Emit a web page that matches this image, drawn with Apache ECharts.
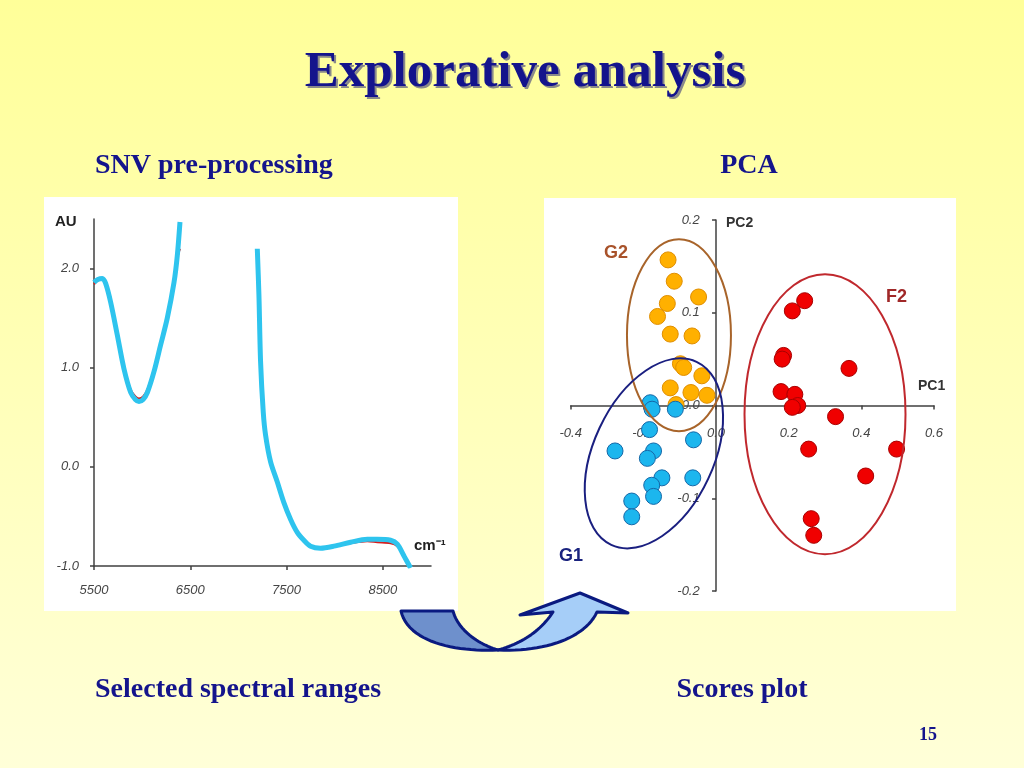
<!DOCTYPE html>
<html>
<head>
<meta charset="utf-8">
<script src="https://cdn.jsdelivr.net/npm/echarts@6/dist/echarts.min.js"></script>
<style>
html,body{margin:0;padding:0;width:1024px;height:768px;overflow:hidden;}
#c{width:1024px;height:768px;}
</style>
</head>
<body>
<div id="c"></div>
<script>
// ---------- Spectra (SNV pre-processed) ----------
const wn1 = [5500, 5540, 5586, 5621, 5673, 5742, 5811, 5881, 5930, 5967, 6010, 6054, 6123, 6192, 6261, 6331, 6365, 6393];
const cyan1 = [1.86, 1.89, 1.90, 1.85, 1.66, 1.33, 0.99, 0.75, 0.68, 0.66, 0.68, 0.75, 0.96, 1.23, 1.50, 1.86, 2.13, 2.47];
const red1 = [1.84, 1.88, 1.89, 1.84, 1.66, 1.34, 1.01, 0.78, 0.71, 0.69, 0.71, 0.78, 0.98, 1.24, 1.50, 1.84, 2.10, 2.20];
const wn2 = [7196, 7213, 7230, 7258, 7282, 7334, 7403, 7472, 7542, 7611, 7680, 7749, 7853, 7992, 8165, 8338, 8442, 8580, 8650, 8720, 8788];
const cyan2 = [2.20, 1.73, 1.06, 0.55, 0.32, 0.05, -0.15, -0.36, -0.53, -0.66, -0.74, -0.80, -0.82, -0.80, -0.76, -0.73, -0.73, -0.74, -0.78, -0.90, -1.02];
const red2 = [1.98, 1.70, 1.05, 0.55, 0.32, 0.05, -0.15, -0.36, -0.53, -0.66, -0.74, -0.80, -0.82, -0.80, -0.77, -0.75, -0.76, -0.77, -0.80, -0.90, -1.00];
const specXTicks = [5500, 6500, 7500, 8500];
const specYTicks = [-1, 0, 1, 2];

// ---------- PCA scores ----------
const g1PC1 = [-0.181, -0.176, -0.112, -0.183, -0.062, -0.278, -0.172, -0.189, -0.149, -0.177, -0.172, -0.064, -0.232, -0.232];
const g1PC2 = [0.003, -0.004, -0.004, -0.026, -0.037, -0.049, -0.049, -0.057, -0.078, -0.086, -0.098, -0.078, -0.103, -0.120];
const g2PC1 = [-0.132, -0.115, -0.048, -0.134, -0.161, -0.126, -0.066, -0.098, -0.089, -0.039, -0.126, -0.069, -0.025, -0.110];
const g2PC2 = [0.157, 0.134, 0.117, 0.110, 0.096, 0.077, 0.075, 0.045, 0.041, 0.032, 0.019, 0.014, 0.011, 0.001];
const f2PC1 = [0.244, 0.210, 0.186, 0.182, 0.366, 0.179, 0.217, 0.225, 0.210, 0.329, 0.255, 0.497, 0.412, 0.262, 0.269];
const f2PC2 = [0.113, 0.102, 0.054, 0.050, 0.040, 0.015, 0.012, 0.000, -0.002, -0.012, -0.047, -0.047, -0.076, -0.122, -0.140];

const pair = (xs, ys) => xs.map((x, i) => [x, ys[i]]);

const chart = echarts.init(document.getElementById('c'), null, {renderer: 'canvas'});

const axisLineStyle = {color: '#404040', width: 1.5};
const tickLabel = {color: '#454545', fontStyle: 'italic', fontSize: 13, fontFamily: 'Liberation Sans, Arial, sans-serif'};
const noLine = {show: false};

chart.setOption({
  animation: false,
  backgroundColor: '#FFFFC0',
  grid: [
    {left: 94, top: 219, width: 337, height: 347},
    {left: 570.7, top: 220, width: 363.3, height: 371}
  ],
  xAxis: [
    {
      type: 'value', gridIndex: 0, min: 5500, max: 9000,
      axisLine: {onZero: false, lineStyle: axisLineStyle},
      axisTick: {show: true, length: 4, lineStyle: axisLineStyle, customValues: specXTicks},
      axisLabel: Object.assign({margin: 18, customValues: specXTicks, formatter: v => String(v)}, tickLabel),
      splitLine: {show: false}
    },
    {
      type: 'value', gridIndex: 1, min: -0.4, max: 0.6, interval: 0.2,
      axisLine: {onZero: true, lineStyle: axisLineStyle},
      axisTick: {show: true, length: 4, lineStyle: axisLineStyle},
      axisLabel: {show: false},
      splitLine: {show: false}
    },
    {
      // label carrier placed on the zero line
      type: 'value', gridIndex: 1, min: -0.4, max: 0.6, interval: 0.2, position: 'bottom', offset: -185,
      axisLine: {show: false, onZero: false}, axisTick: noLine,
      axisLabel: Object.assign({margin: 21, formatter: v => v.toFixed(1)}, tickLabel),
      splitLine: {show: false}
    }
  ],
  yAxis: [
    {
      type: 'value', gridIndex: 0, min: -1, max: 2.5,
      axisLine: {show: true, onZero: false, lineStyle: axisLineStyle},
      axisTick: {show: true, length: 4, lineStyle: axisLineStyle, customValues: specYTicks},
      axisLabel: Object.assign({margin: 15, customValues: specYTicks, formatter: v => v.toFixed(1)}, tickLabel),
      splitLine: {show: false}
    },
    {
      type: 'value', gridIndex: 1, min: -0.2, max: 0.2, interval: 0.1,
      axisLine: {show: true, onZero: true, lineStyle: axisLineStyle},
      axisTick: {show: true, length: 4, lineStyle: axisLineStyle},
      axisLabel: {show: false},
      splitLine: {show: false}
    },
    {
      type: 'value', gridIndex: 1, min: -0.2, max: 0.2, interval: 0.1, position: 'left', offset: -145,
      axisLine: {show: false, onZero: false}, axisTick: noLine,
      axisLabel: Object.assign({margin: 16, formatter: v => v.toFixed(1)}, tickLabel),
      splitLine: {show: false}
    }
  ],
  series: [
    {type: 'line', xAxisIndex: 0, yAxisIndex: 0, data: pair(wn1, red1), smooth: 0.3, showSymbol: false, lineStyle: {color: '#D42020', width: 2}, z: 3},
    {type: 'line', xAxisIndex: 0, yAxisIndex: 0, data: pair(wn2, red2), smooth: 0.3, showSymbol: false, lineStyle: {color: '#D42020', width: 2}, z: 3},
    {type: 'line', xAxisIndex: 0, yAxisIndex: 0, data: pair(wn1, cyan1), smooth: 0.3, showSymbol: false, lineStyle: {color: '#2EC4EE', width: 5}, z: 4},
    {type: 'line', xAxisIndex: 0, yAxisIndex: 0, data: pair(wn2, cyan2), smooth: 0.3, showSymbol: false, lineStyle: {color: '#2EC4EE', width: 5}, z: 4},
    {type: 'scatter', name: 'G2', xAxisIndex: 1, yAxisIndex: 1, data: pair(g2PC1, g2PC2), symbolSize: 16,
      itemStyle: {color: '#FFB000', borderColor: '#E08E00', borderWidth: 1, opacity: 1}, z: 5},
    {type: 'scatter', name: 'G1', xAxisIndex: 1, yAxisIndex: 1, data: pair(g1PC1, g1PC2), symbolSize: 16,
      itemStyle: {color: '#1CB6EE', borderColor: '#1568A8', borderWidth: 1, opacity: 1}, z: 5},
    {type: 'scatter', name: 'F2', xAxisIndex: 1, yAxisIndex: 1, data: pair(f2PC1, f2PC2), symbolSize: 16,
      itemStyle: {color: '#F00000', borderColor: '#A80000', borderWidth: 1, opacity: 1}, z: 5}
  ]
});

// ---------- decorations (graphic) ----------
const ellipses = [
  {center: [-0.102, 0.0758], rx: 52, ry: 96, rot: 0, color: '#A8642A'},
  {center: [-0.171, -0.0516], rx: 60, ry: 101, rot: -0.436, color: '#1A1F80'},
  {center: [0.300, -0.0094], rx: 80.5, ry: 140, rot: 0, color: '#C0282D'}
];
const serif = '"Liberation Serif", "Times New Roman", serif';
const sans = '"Liberation Sans", Arial, sans-serif';
const navy = '#14148C';

const g = [];
g.push({type: 'rect', z: -100, shape: {x: 0, y: 0, width: 1024, height: 768},
  style: {fill: {type: 'linear', x: 0, y: 0, x2: 0, y2: 1, colorStops: [{offset: 0, color: '#FFFF99'}, {offset: 1, color: '#FFFFD8'}]}}});
g.push({type: 'rect', z: -50, shape: {x: 44, y: 197, width: 414, height: 414}, style: {fill: '#FFFFFF'}});
g.push({type: 'rect', z: -50, shape: {x: 544, y: 198, width: 412, height: 413}, style: {fill: '#FFFFFF'}});

ellipses.forEach(e => {
  const p = chart.convertToPixel({gridIndex: 1}, e.center);
  g.push({type: 'ellipse', z: 6, x: p[0], y: p[1], rotation: e.rot,
    shape: {cx: 0, cy: 0, rx: e.rx, ry: e.ry}, style: {fill: 'none', stroke: e.color, lineWidth: 2}});
});

const txt = (x, y, text, font, fill, align) => ({type: 'text', z: 50, x: x, y: y,
  style: {text: text, font: font, fill: fill, align: align || 'left', verticalAlign: 'middle'}});

// Title with shadow
g.push(txt(527, 75, 'Explorative analysis', 'bold 51px ' + serif, '#8A8A8A', 'center'));
g.push(txt(525, 73, 'Explorative analysis', 'bold 51px ' + serif, navy, 'center'));
g.push(txt(95, 166, 'SNV pre-processing', 'bold 28px ' + serif, navy));
g.push(txt(749, 166, 'PCA', 'bold 28px ' + serif, navy, 'center'));
g.push(txt(95, 690, 'Selected spectral ranges', 'bold 28px ' + serif, navy));
g.push(txt(742, 690, 'Scores plot', 'bold 28px ' + serif, navy, 'center'));
g.push(txt(928, 735, '15', 'bold 18px ' + serif, navy, 'center'));

// Axis names
g.push(txt(55, 222, 'AU', 'bold 15px ' + sans, '#222222'));
g.push(txt(414, 546, 'cm\u207B\u00B9', 'bold 15px ' + sans, '#222222'));
g.push(txt(726, 223, 'PC2', 'bold 14px ' + sans, '#333333'));
g.push(txt(918, 386, 'PC1', 'bold 14px ' + sans, '#333333'));
// Group labels
g.push(txt(604, 253, 'G2', 'bold 18px ' + sans, '#A8522A'));
g.push(txt(886, 297, 'F2', 'bold 18px ' + sans, '#A02828'));
g.push(txt(559, 556, 'G1', 'bold 18px ' + sans, '#1A237E'));

// Curved arrow (bezier outlines sampled into polygons)
function cubic(p0, p1, p2, p3, n) {
  const pts = [];
  for (let i = 0; i <= n; i++) {
    const t = i / n, u = 1 - t;
    pts.push([
      u*u*u*p0[0] + 3*u*u*t*p1[0] + 3*u*t*t*p2[0] + t*t*t*p3[0],
      u*u*u*p0[1] + 3*u*u*t*p1[1] + 3*u*t*t*p2[1] + t*t*t*p3[1]
    ]);
  }
  return pts;
}
const darkPts = cubic([401, 611], [408, 642], [455, 652], [498, 650], 24)
  .concat(cubic([498, 650], [478, 644], [458, 630], [453, 611], 24));
const lightPts = cubic([498, 650], [545, 652], [585, 638], [597, 612], 24)
  .concat([[628, 613], [580, 593], [520, 615]])
  .concat(cubic([553, 612], [540, 632], [520, 644], [498, 650], 24));
g.push({type: 'polygon', z: 40, shape: {points: darkPts},
  style: {fill: '#6E90CC', stroke: '#0A1A80', lineWidth: 3, lineJoin: 'round'}});
g.push({type: 'polygon', z: 41, shape: {points: lightPts},
  style: {fill: '#A6CEF8', stroke: '#0A1A80', lineWidth: 3, lineJoin: 'round'}});

chart.setOption({graphic: g});
</script>
</body>
</html>
